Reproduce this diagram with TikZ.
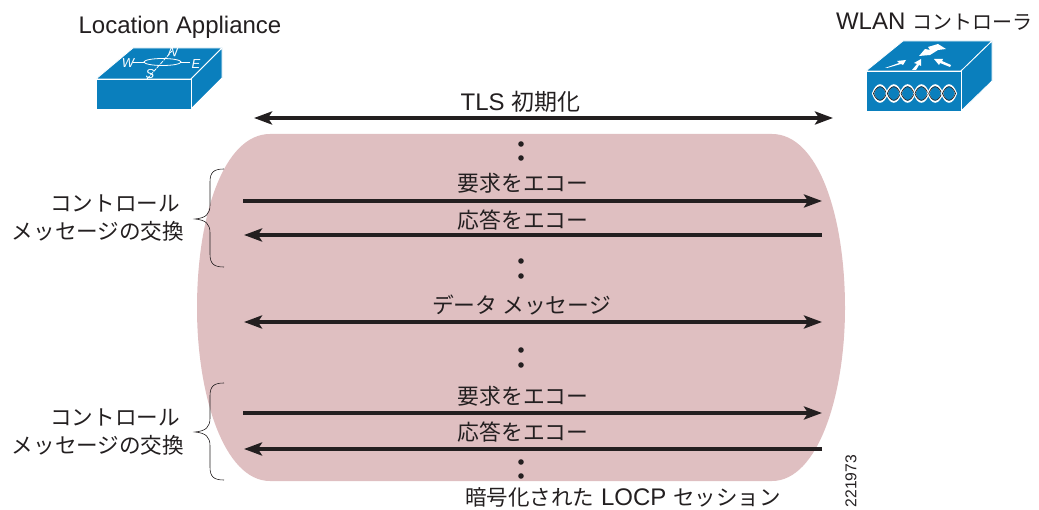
\documentclass[tikz,border=0pt]{standalone}
\usepackage{fontspec}
\setmainfont{Liberation Sans}
\newfontfamily\cjk{Noto Sans CJK JP}
\usetikzlibrary{arrows.meta}
\definecolor{blob}{HTML}{DFBFC1}
\definecolor{dev}{HTML}{0A7FBD}
\definecolor{ink}{HTML}{231F20}
\tikzset{
  x=1pt,y=-1pt,
  flow/.style={ink,line width=3.6pt,-{Stealth[length=18pt,width=13pt,inset=4pt]}},
  flowboth/.style={ink,line width=3.6pt,{Stealth[length=18pt,width=13pt,inset=4pt]}-{Stealth[length=18pt,width=13pt,inset=4pt]}},
  lbl/.style={inner sep=0pt,text=ink,font=\fontsize{24}{28}\selectfont,anchor=center},
  jlbl/.style={inner sep=0pt,text=ink,font=\fontsize{21.8}{26}\selectfont\cjk,anchor=center},
  side/.style={inner sep=0pt,text=ink,align=center,font=\fontsize{21.6}{27.5}\selectfont\cjk},
  brace/.style={ink,line width=0.6pt},
  dotmark/.style={circle,fill=ink,inner sep=0pt,minimum size=5.6pt},
  devface/.style={fill=dev,draw=white,line width=0.8pt,line join=round},
  glyph/.style={white,line width=0.8pt},
  compass/.style={white,inner sep=0pt,font=\fontsize{13}{13}\selectfont\itshape},
}
\newcommand{\dotpair}[3]{%
  \node[dotmark] (#1a) at (521,#2) {};
  \node[dotmark] (#1b) at (521,#3) {};}
\begin{document}
\begin{tikzpicture}
\useasboundingbox (0,0) rectangle (1039,510);
% session blob
\fill[blob] (270,134) -- (772,134) .. controls (818,134) and (845,215) .. (845,308)
  .. controls (845,395) and (818,481) .. (772,481) -- (270,481)
  .. controls (224,481) and (197,395) .. (197,308)
  .. controls (197,215) and (224,134) .. (270,134) -- cycle;
% left device
\filldraw[devface] (96,79) -- (133,48) -- (222,48) -- (191,79) -- cycle;
\filldraw[devface] (191,79) -- (222,48) -- (222,78) -- (191,109) -- cycle;
\filldraw[devface] (96,79) rectangle (191,109);
\draw[glyph] (133,62) -- (144,62) (181,62) -- (190,62);
\draw[glyph] (162.5,62) ellipse [x radius=18.5pt,y radius=3.5pt];
\draw[glyph,dash pattern=on 4pt off 1pt] (147,79) -- (172,51);
\node[compass,rotate=-10] (cn) at (173,52) {N};
\node[compass] (cw) at (128,63) {W};
\node[compass] (ce) at (196,64) {E};
\node[compass] (cs) at (150,74) {S};
% right device
\filldraw[devface] (866,71) -- (903,41) -- (992,41) -- (961,71) -- cycle;
\filldraw[devface] (961,71) -- (992,41) -- (992,81) -- (961,111) -- cycle;
\filldraw[devface] (866,71) rectangle (961,111);
\fill[white] (919,56) -- (925,49) -- (930,50) -- (928,47) -- (938,44) -- (946,49) -- (938,50) -- (930,55) -- cycle;
\fill[white] (885,68) -- (899,63) -- (897,61) -- (906,60) -- (903,65) -- (901,64) -- (887,68) -- cycle;
\fill[white] (912,70) -- (917,64) -- (914,63) -- (921,59) -- (921,66) -- (919,65) -- (916,70) -- cycle;
\fill[white] (950,67) -- (940,63) -- (939,65) -- (934,59) -- (943,59) -- (942,61) -- (951,65) -- cycle;
\foreach \i in {0,...,5}{
  \draw[white,line width=2pt] (873+\i*13.8,93.5)
    .. controls (877+\i*13.8,82.5) and (883+\i*13.8,82.5) .. (887+\i*13.8,93.5)
    .. controls (883+\i*13.8,104.5) and (877+\i*13.8,104.5) .. (873+\i*13.8,93.5) -- cycle;
  \draw[ink,line width=0.7pt] (873.5+\i*13.8,93.5)
    .. controls (877+\i*13.8,84.5) and (883+\i*13.8,84.5) .. (886.5+\i*13.8,93.5)
    .. controls (883+\i*13.8,102.5) and (877+\i*13.8,102.5) .. (873.5+\i*13.8,93.5) -- cycle;
}
% device labels
\node[lbl] (locap) at (180,27) {Location Appliance};
\node[lbl] (wlc) at (934,22) {WLAN {\cjk\fontsize{20}{24}\selectfont コントローラ}};
% anchors for the flows
\coordinate (tlsL) at (254,118); \coordinate (tlsR) at (833,118);
\coordinate (a1L) at (243,201);  \coordinate (a1R) at (822,201);
\coordinate (a2L) at (244,235);  \coordinate (a2R) at (822,235);
\coordinate (a3L) at (244,322);  \coordinate (a3R) at (822,322);
\coordinate (a4L) at (243,413);  \coordinate (a4R) at (822,413);
\coordinate (a5L) at (244,449);  \coordinate (a5R) at (822,449);
\draw[flowboth] (tlsL) -- (tlsR);
\draw[flow] (a1L) -- (a1R);
\draw[flow] (a2R) -- (a2L);
\draw[flowboth] (a3L) -- (a3R);
\draw[flow] (a4L) -- (a4R);
\draw[flow] (a5R) -- (a5L);
% labels on flows
\node[lbl] (tls) at (520.5,102) {TLS {\cjk\fontsize{23}{24}\selectfont 初期化}};
\node[jlbl] (req1) at (523,183) {要求をエコー};
\node[jlbl] (res1) at (523,220) {応答をエコー};
\node[jlbl] (data) at (521.5,305) {データ メッセージ};
\node[jlbl] (req2) at (523,396) {要求をエコー};
\node[jlbl] (res2) at (523,432) {応答をエコー};
\node[lbl] (sess) at (623,497) {{\cjk\fontsize{21.5}{24}\selectfont 暗号化された} LOCP {\cjk\fontsize{21.5}{24}\selectfont セッション}};
% dots
\dotpair{d1}{144}{158}
\dotpair{d2}{261}{276}
\dotpair{d3}{350}{365}
\dotpair{d4}{462}{476}
% braces
\draw[brace] (224,169) .. controls (214,169) and (210,172) .. (210,182) -- (210,205)
  .. controls (210,214) and (206,218) .. (195,219)
  .. controls (206,220) and (210,224) .. (210,233) -- (210,254)
  .. controls (210,264) and (214,267) .. (224,267);
\draw[brace] (224,383) .. controls (214,383) and (210,386) .. (210,396) -- (210,418)
  .. controls (210,427) and (206,431) .. (195,432)
  .. controls (206,433) and (210,437) .. (210,446) -- (210,467)
  .. controls (210,477) and (214,480) .. (224,480);
% side labels
\node[side] (c1) at (98,218) {\hspace*{34pt}コントロール\\メッセージの交換};
\node[side] (c2) at (98,432) {\hspace*{34pt}コントロール\\メッセージの交換};
\node[inner sep=0pt,text=ink,rotate=90,font=\fontsize{15.7}{18}\selectfont] (idnum) at (851,481) {221973};
\end{tikzpicture}
\end{document}
